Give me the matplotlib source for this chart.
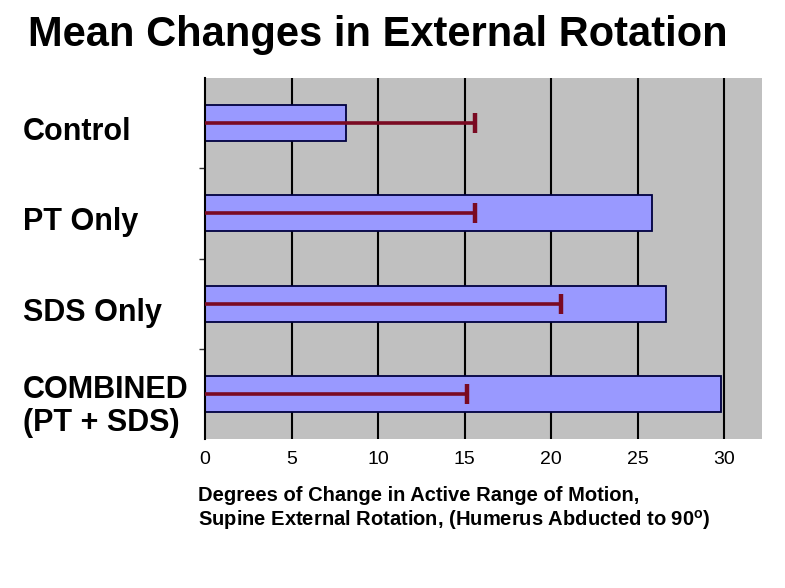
import matplotlib
matplotlib.use("Agg")
import matplotlib.pyplot as plt
import matplotlib.transforms as mtransforms
import numpy as np

categories = ["Control", "PT Only", "SDS Only", "COMBINED\n(PT + SDS)"]
mean_change = [8.15, 25.8, 26.6, 29.8]
error_end = [15.6, 15.6, 20.55, 15.15]
x_ticks = [0, 5, 10, 15, 20, 25, 30]

plt.rcParams['font.family'] = ['Liberation Sans', 'DejaVu Sans']

W, H = 785, 588
fig = plt.figure(figsize=(W / 100, H / 100), dpi=100)
ax = fig.add_axes([205 / W, 1 - 439 / H, (762.5 - 205) / W, (439 - 78) / H])
ax.set_facecolor('#c0c0c0')

y = np.arange(len(categories))
ax.set_xlim(0, 32.2)
ax.set_ylim(3.5, -0.5)

for xv in x_ticks[1:]:
    ax.axvline(xv, color='black', lw=1.5, zorder=1)

ax.barh(y, mean_change, height=0.4, color='#9999ff', edgecolor='#000040',
        linewidth=1.3, zorder=2)

ax.hlines(y, 0, error_end, color='#7a0a22', lw=2.6, zorder=3)
ax.plot(error_end, y, linestyle='none', marker='|', markersize=15,
        markeredgewidth=3.2, color='#7a0a22', zorder=3)

for s in ['top', 'right', 'bottom']:
    ax.spines[s].set_visible(False)
ax.spines['left'].set_color('black')
ax.spines['left'].set_linewidth(1.5)

ax.set_yticks([0.5, 1.5, 2.5])
ax.set_yticklabels([])
ax.tick_params(axis='y', length=4, width=1, color='#333333', direction='out')

ax.set_xticks(x_ticks)
ax.set_xticklabels([str(v) for v in x_ticks], fontsize=14)
ax.tick_params(axis='x', length=0, pad=9)

trans = mtransforms.blended_transform_factory(fig.transFigure, ax.transData)
for yi, lab in zip(y, categories):
    off = 0.14 if "\n" in lab else 0.1
    ax.text(23 / W, yi + off, lab, transform=trans, ha='left', va='center',
            fontsize=22, fontweight='bold', linespacing=1.15)

fig.text(28 / W, 1 - 35 / H, "Mean Changes in External Rotation",
         fontsize=30, fontweight='bold', ha='left', va='center')

fig.text(198 / W, 1 - 509 / H,
         "Degrees of Change in Active Range of Motion,\n"
         "Supine External Rotation, (Humerus Abducted to 90$^\\mathregular{o}$)",
         fontsize=14.5, fontweight='bold', ha='left', va='center', linespacing=1.15)

fig.savefig("out.png", dpi=100, facecolor='white')
